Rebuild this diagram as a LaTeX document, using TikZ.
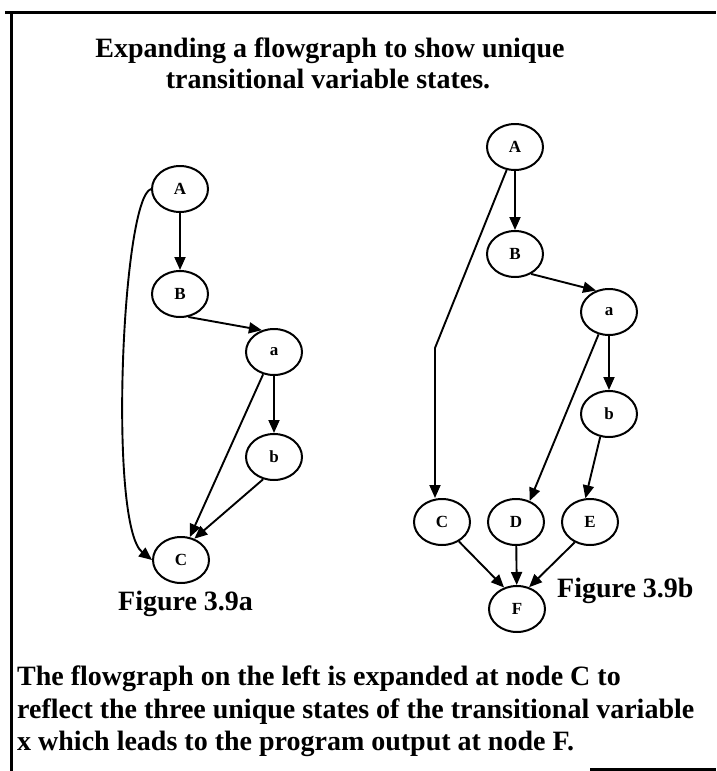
\documentclass[tikz,border=0pt]{standalone}
\usepackage{fontspec}
\setmainfont{Liberation Serif}
\usetikzlibrary{shapes.geometric,arrows.meta}
\begin{document}
\begin{tikzpicture}[x=1pt,y=-1pt,
  nd/.style={ellipse,draw,line width=2pt,minimum width=56pt,minimum height=46pt,inner sep=0pt,font=\fontsize{17}{20}\selectfont\bfseries},
  ar/.style={line width=1.9pt,-{Triangle[length=13pt,width=11pt]}},
  big/.style={font=\fontsize{28}{32}\selectfont\bfseries,inner sep=0pt},
  border/.style={line width=3pt}]
\useasboundingbox (0,0) rectangle (716,771);
% frame
\draw[border] (5,12) -- (716,12);
\draw[border] (11,12) -- (11,771);
\draw[border] (590,769) -- (716,769);
% title
\node[big,anchor=base] (t1) at (330,57) {Expanding a flowgraph to show unique};
\node[big,anchor=base] (t2) at (328,88) {transitional variable states.};
% left graph
\node[nd] (A1) at (180,189) {A};
\node[nd] (B1) at (180,294) {B};
\node[nd] (a1) at (274,352) {a};
\node[nd] (b1) at (274,457) {b};
\node[nd] (C1) at (181,560) {C};
\draw[ar] (A1) -- (B1);
\draw[ar] (B1.-70) -- (a1.119);
\draw[ar] (a1) -- (b1);
\draw[ar] (a1.244) -- (C1.69);
\draw[ar] (b1.244) -- (C1.58);
\draw[ar] (A1.west) .. controls (122,198) and (108,525) .. (C1.west);
\node[big,anchor=base west] (fa) at (118,610) {Figure 3.9a};
% right graph
\node[nd] (A2) at (515,147) {A};
\node[nd] (B2) at (515,254) {B};
\node[nd] (a2) at (609,312) {a};
\node[nd] (b2) at (609,414) {b};
\node[nd] (C2) at (442,522) {C};
\node[nd] (D2) at (516,522) {D};
\node[nd] (E2) at (590,522) {E};
\node[nd] (F2) at (517,609) {F};
\coordinate (k) at (435,348);
\draw[ar] (A2) -- (B2);
\draw[ar] (A2.250) -- (k) -- (k |- C2.north);
\draw[ar] (B2.-51) -- (a2.121);
\draw[ar] (a2) -- (b2);
\draw[ar] (a2.245) -- (D2.57);
\draw[ar] (b2.249) -- (E2.101);
\draw[ar] (C2.-49) -- (F2.121);
\draw[ar] (D2) -- (F2);
\draw[ar] (E2.-127) -- (F2.61);
\node[big,anchor=base west] (fb) at (557,597) {Figure 3.9b};
% caption
\node[big,anchor=base west] (c1) at (17,685) {The flowgraph on the left is expanded at node C to};
\node[big,anchor=base west] (c2) at (17,718) {reflect the three unique states of the transitional variable};
\node[big,anchor=base west] (c3) at (17,750) {x which leads to the program output at node F.};
\end{tikzpicture}
\end{document}
